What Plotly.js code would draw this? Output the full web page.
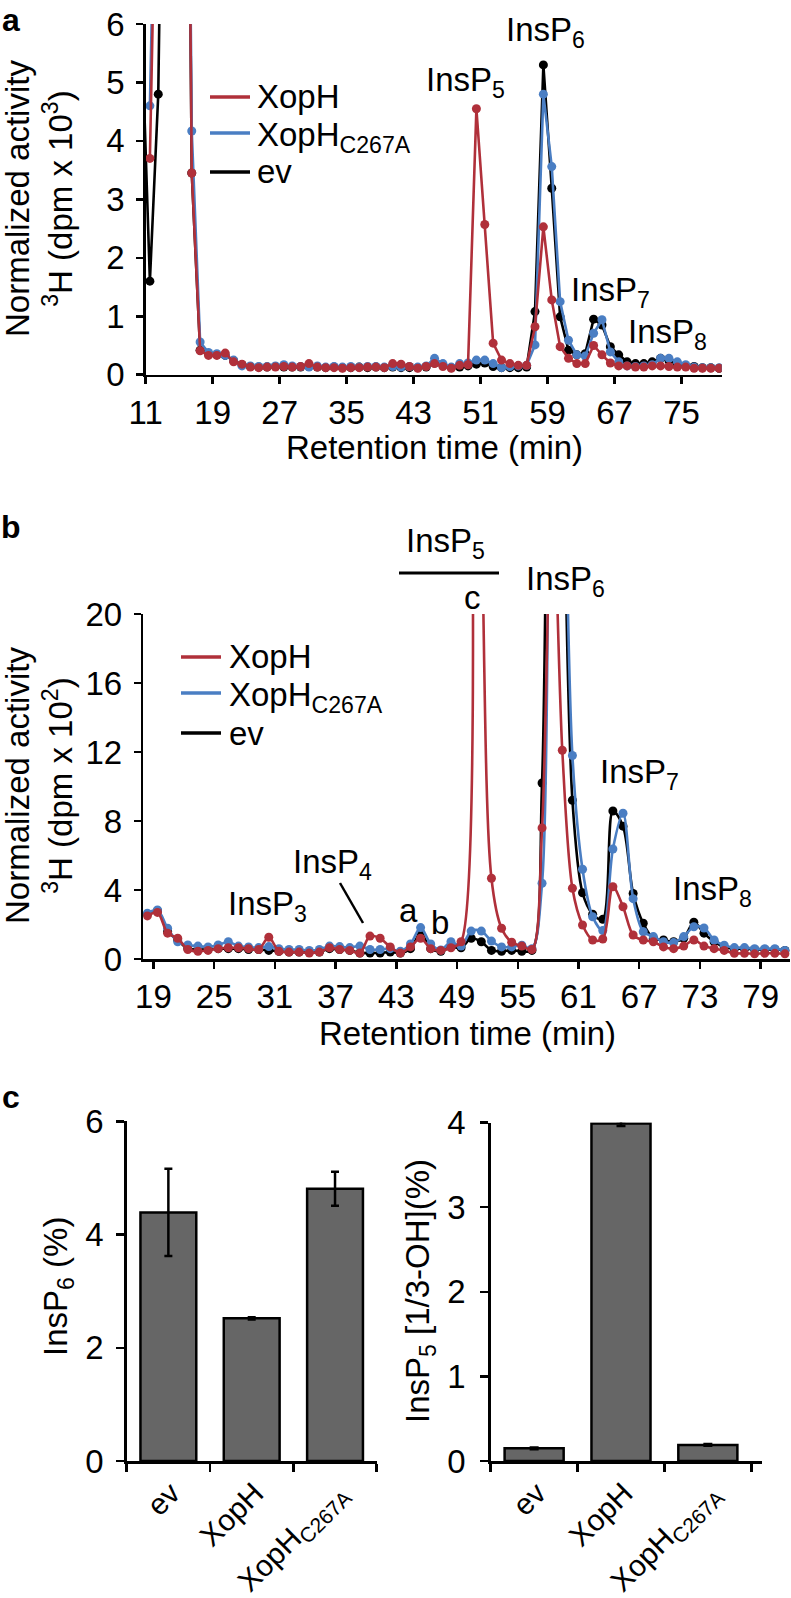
<!DOCTYPE html>
<html><head><meta charset="utf-8">
<script src="https://cdn.plot.ly/plotly-3.0.1.min.js"></script>
<style>body{margin:0;background:#fff}#g{width:791px;height:1598px}</style>
</head><body><div id="g"></div>
<script>
// ---------- DATA ----------
const seriesNames = ['XopH', 'XopH<sub>C267A</sub>', 'ev'];
// panel a (dpm x 10^3)
const tA = [10.5,11.5,12.5,13.5,14.5,15.5,16.5,17.5,18.5,19.5,20.5,21.5,22.5,23.5,24.5,25.5,26.5,27.5,28.5,29.5,30.5,31.5,32.5,33.5,34.5,35.5,36.5,37.5,38.5,39.5,40.5,41.5,42.5,43.5,44.5,45.5,46.5,47.5,48.5,49.5,50.5,51.5,52.5,53.5,54.5,55.5,56.5,57.5,58.5,59.5,60.5,61.5,62.5,63.5,64.5,65.5,66.5,67.5,68.5,69.5,70.5,71.5,72.5,73.5,74.5,75.5,76.5,77.5,78.5,79.5];
const redA = [null,3.7,9,20,25,20,3.45,0.41,0.33,0.33,0.37,0.22,0.18,0.13,0.12,0.13,0.13,0.14,0.13,0.14,0.19,0.13,0.12,0.12,0.11,0.12,0.12,0.13,0.13,0.12,0.19,0.18,0.14,0.11,0.14,0.19,0.14,0.11,0.16,0.17,4.55,2.57,0.54,0.25,0.19,0.16,0.16,0.82,2.53,1.28,0.48,0.28,0.19,0.19,0.5,0.34,0.2,0.15,0.15,0.13,0.13,0.15,0.15,0.14,0.13,0.13,0.11,0.11,0.11,0.11];
const blueA = [null,4.6,10,22,25,20,4.17,0.56,0.38,0.36,0.33,0.25,0.15,0.15,0.14,0.14,0.15,0.17,0.15,0.14,0.13,0.15,0.13,0.14,0.13,0.14,0.13,0.14,0.14,0.13,0.14,0.13,0.14,0.13,0.15,0.28,0.19,0.13,0.19,0.2,0.25,0.25,0.19,0.12,0.14,0.15,0.16,0.51,4.8,3.56,1.25,0.59,0.34,0.32,0.71,0.94,0.39,0.22,0.15,0.14,0.15,0.17,0.28,0.28,0.22,0.17,0.13,0.12,0.12,0.12];
const blackA = [6,1.6,4.8,25,25,20,3.45,0.42,0.36,0.34,0.33,0.24,0.17,0.14,0.13,0.13,0.14,0.13,0.13,0.13,0.14,0.13,0.12,0.13,0.12,0.12,0.13,0.12,0.13,0.12,0.13,0.12,0.12,0.12,0.13,0.2,0.16,0.12,0.13,0.15,0.18,0.2,0.14,0.12,0.12,0.12,0.13,1.08,5.3,3.19,0.99,0.42,0.34,0.36,0.95,0.85,0.48,0.34,0.22,0.19,0.19,0.22,0.28,0.24,0.18,0.15,0.14,0.12,0.12,0.11];
const ticksA = [11,19,27,35,43,51,59,67,75];

// panel b (dpm x 10^2)
const tB = [18.4,19.4,20.4,21.4,22.4,23.4,24.4,25.4,26.4,27.4,28.4,29.4,30.4,31.4,32.4,33.4,34.4,35.4,36.4,37.4,38.4,39.4,40.4,41.4,42.4,43.4,44.4,45.4,46.4,47.4,48.4,49.4,50.4,51.4,52.4,53.4,54.4,55.4,56.4,57.4,58.4,59.4,60.4,61.4,62.4,63.4,64.4,65.4,66.4,67.4,68.4,69.4,70.4,71.4,72.4,73.4,74.4,75.4,76.4,77.4,78.4,79.4,80.4,81.4];
const redB = [2.5,2.7,1.5,1.2,0.55,0.45,0.5,0.6,0.65,0.65,0.6,0.55,1.26,0.45,0.4,0.4,0.35,0.4,0.65,0.55,0.5,0.35,1.33,1.2,0.7,0.35,0.7,1.2,0.6,0.5,0.65,1.0,45,26,4.68,1.78,0.97,0.75,0.55,7.6,28,12.1,4.1,1.97,1.1,1.16,4.19,3.03,1.39,1.1,1.0,0.7,0.6,0.75,1.1,0.75,0.6,0.5,0.33,0.33,0.3,0.33,0.33,0.3];
const blueB = [2.65,2.84,1.78,1.0,0.81,0.75,0.7,0.81,1.0,0.75,0.7,0.66,0.72,0.6,0.55,0.55,0.5,0.55,0.75,0.72,0.66,0.75,0.55,0.55,0.6,0.45,0.87,1.82,0.87,0.52,1.0,0.75,1.62,1.62,1.04,0.7,0.7,0.8,0.6,4.39,48,35,11.8,5.2,2.45,1.65,6.38,8.45,3.5,1.58,1.3,1.0,0.95,1.3,1.87,1.8,1.1,0.8,0.66,0.66,0.6,0.6,0.6,0.5];
const blackB = [2.6,2.8,1.6,1.1,0.6,0.55,0.55,0.6,0.6,0.6,0.55,0.55,0.5,0.45,0.4,0.4,0.4,0.4,0.6,0.55,0.5,0.35,0.35,0.35,0.4,0.35,0.6,1.5,0.6,0.45,0.7,0.65,1.2,1.0,0.5,0.45,0.5,0.45,0.5,10.2,53,32,9.2,3.84,2.6,2.3,8.58,7.7,3.8,2.07,1.2,1.1,1.0,1.2,2.13,1.5,1.0,0.7,0.6,0.6,0.55,0.55,0.55,0.5];
const ticksB = [19,25,31,37,43,49,55,61,67,73,79];

// panel c
const barCats = ['ev', 'XopH', 'XopH<sub>C267A</sub>'];
const insP6 = [4.39, 2.52, 4.81];
const insP6Err = [0.77, 0.02, 0.30];
const insP5 = [0.15, 3.99, 0.19];
const insP5Err = [0.01, 0.03, 0.01];

// ---------- STYLE ----------
const W = 791, H = 1598;
const px = x => x / W, py = y => 1 - y / H;
const RED = '#B0303A', BLUE = '#4A7EC3', BLACK = '#000000';
const FONT = 'Liberation Sans, Arial, Helvetica, sans-serif';
const FS = 33;

function lineTrace(x, y, color, xa, ya, shape) {
  return {x: x, y: y, xaxis: xa, yaxis: ya, type: 'scatter', mode: 'lines+markers',
    line: {color: color, width: 2.6, shape: shape, smoothing: 0.9},
    marker: {color: color, size: 9}, showlegend: false, hoverinfo: 'skip'};
}
const traces = [
  lineTrace(tA, blackA, BLACK, 'x', 'y', 'linear'),
  lineTrace(tA, blueA, BLUE, 'x', 'y', 'linear'),
  lineTrace(tA, redA, RED, 'x', 'y', 'linear'),
  lineTrace(tB, blackB, BLACK, 'x2', 'y2', 'spline'),
  lineTrace(tB, blueB, BLUE, 'x2', 'y2', 'spline'),
  lineTrace(tB, redB, RED, 'x2', 'y2', 'spline'),
  {x: barCats, y: insP6, type: 'bar', xaxis: 'x3', yaxis: 'y3', width: 0.67,
   marker: {color: '#666666', line: {color: '#000', width: 2.5}},
   error_y: {type: 'data', array: insP6Err, visible: true, color: '#000', thickness: 2.5, width: 4},
   showlegend: false, hoverinfo: 'skip'},
  {x: barCats, y: insP5, type: 'bar', xaxis: 'x4', yaxis: 'y4', width: 0.68,
   marker: {color: '#666666', line: {color: '#000', width: 2.5}},
   error_y: {type: 'data', array: insP5Err, visible: true, color: '#000', thickness: 2.5, width: 4.5},
   showlegend: false, hoverinfo: 'skip'}
];

const axBase = {showline: true, linecolor: '#000', linewidth: 2.5, ticks: 'outside', ticklen: 7,
  tickwidth: 2.5, tickcolor: '#000', showgrid: false, zeroline: false, fixedrange: true,
  tickfont: {family: FONT, size: FS, color: '#000'}};
function ax(o) { return Object.assign({}, axBase, o); }
const catFont = {family: FONT, size: 30, color: '#000'};

const annotations = [];
function txt(x, y, text, o) {
  annotations.push(Object.assign({xref: 'paper', yref: 'paper', x: px(x), y: py(y), text: text,
    showarrow: false, xanchor: 'left', yanchor: 'middle',
    font: {family: FONT, size: FS, color: '#000'}}, o || {}));
}
const shapes = [];
function seg(x0, y0, x1, y1, color, w) {
  shapes.push({type: 'line', xref: 'paper', yref: 'paper', x0: px(x0), y0: py(y0), x1: px(x1), y1: py(y1),
    line: {color: color, width: w}});
}

// panel letters
const LET = {family: FONT, size: 32, color: '#000'};
txt(11, 0, '<b>a</b>', {xanchor: 'center', yanchor: 'top', font: LET});
txt(11, 527, '<b>b</b>', {xanchor: 'center', font: LET});
txt(11, 1097, '<b>c</b>', {xanchor: 'center', font: LET});

// axis titles
const yTitleA = 'Normalized activity<br><sup>3</sup>H (dpm x 10<sup>3</sup>)';
const yTitleB = 'Normalized activity<br><sup>3</sup>H (dpm x 10<sup>2</sup>)';
txt(39, 199, yTitleA, {xanchor: 'center', textangle: -90});
txt(39, 786, yTitleB, {xanchor: 'center', textangle: -90});
txt(434, 447, 'Retention time (min)', {xanchor: 'center'});
txt(467, 1033, 'Retention time (min)', {xanchor: 'center'});
txt(58, 1287, 'InsP<sub>6</sub> (%)', {xanchor: 'center', textangle: -90});
txt(420, 1291, 'InsP<sub>5</sub> [1/3-OH](%)', {xanchor: 'center', textangle: -90});

// peak labels panel a
txt(424, 82, 'InsP<sub>5</sub>');
txt(504, 32, 'InsP<sub>6</sub>');
txt(569, 292, 'InsP<sub>7</sub>');
txt(626, 334, 'InsP<sub>8</sub>');
// peak labels panel b
txt(404, 543, 'InsP<sub>5</sub>');
seg(399, 573, 499, 573, '#000', 3);
txt(472.5, 597, 'c', {xanchor: 'center'});
txt(524, 581, 'InsP<sub>6</sub>');
txt(598, 774, 'InsP<sub>7</sub>');
txt(671, 891, 'InsP<sub>8</sub>');
txt(226, 906, 'InsP<sub>3</sub>');
txt(291, 864, 'InsP<sub>4</sub>');
seg(340, 883, 363, 923, '#000', 2.5);
txt(409, 910, 'a', {xanchor: 'center'});
txt(440, 922, 'b', {xanchor: 'center'});

// legends (manual)
const legColors = [RED, BLUE, BLACK];
const legRowsA = [97, 133, 172], legRowsB = [657, 693, 733];
seriesNames.forEach((n, i) => {
  seg(210, legRowsA[i], 250, legRowsA[i], legColors[i], 3.5);
  txt(255, legRowsA[i] + (i === 1 ? 4 : 0), n);
  seg(181, legRowsB[i], 221, legRowsB[i], legColors[i], 3.5);
  txt(227, legRowsB[i] + (i === 1 ? 4 : 0), n);
});

const layout = {
  width: W, height: H, margin: {l: 0, r: 0, t: 0, b: 0},
  paper_bgcolor: '#fff', plot_bgcolor: 'rgba(0,0,0,0)', showlegend: false,
  font: {family: FONT, size: FS, color: '#000'},
  xaxis: ax({domain: [px(145.7), px(721.7)], range: [11, 79.8], anchor: 'y', tickmode: 'array', tickvals: ticksA}),
  yaxis: ax({domain: [py(374.7), py(24)], range: [0, 6], anchor: 'x', dtick: 1, tick0: 0, ticklabelstandoff: 5}),
  xaxis2: ax({domain: [px(143.3), px(790)], range: [18, 81.9], anchor: 'y2', tickmode: 'array', tickvals: ticksB}),
  yaxis2: ax({domain: [py(959), py(614)], range: [0, 20], anchor: 'x2', dtick: 4, tick0: 0, ticklabelstandoff: 5}),
  xaxis3: ax({domain: [px(126.7), px(376.7)], range: [-0.5, 2.5], anchor: 'y3', type: 'category',
    tickson: 'boundaries', tickangle: -45, ticklen: 8, tickfont: catFont, ticklabelshift: 3}),
  yaxis3: ax({domain: [py(1461), py(1121.3)], range: [0, 6], anchor: 'x3', dtick: 2, tick0: 0, ticklen: 8, ticklabelstandoff: 6}),
  xaxis4: ax({domain: [px(490.7), px(761.7)], range: [-0.5, 2.62], anchor: 'y4', type: 'category',
    tickson: 'boundaries', tickangle: -45, ticklen: 8, tickfont: catFont, ticklabelshift: 3}),
  yaxis4: ax({domain: [py(1461), py(1122.6)], range: [0, 4], anchor: 'x4', dtick: 1, tick0: 0, ticklen: 8, ticklabelstandoff: 8}),
  annotations: annotations, shapes: shapes, bargap: 0.33
};
Plotly.newPlot('g', traces, layout, {staticPlot: true, displayModeBar: false});
</script></body></html>
